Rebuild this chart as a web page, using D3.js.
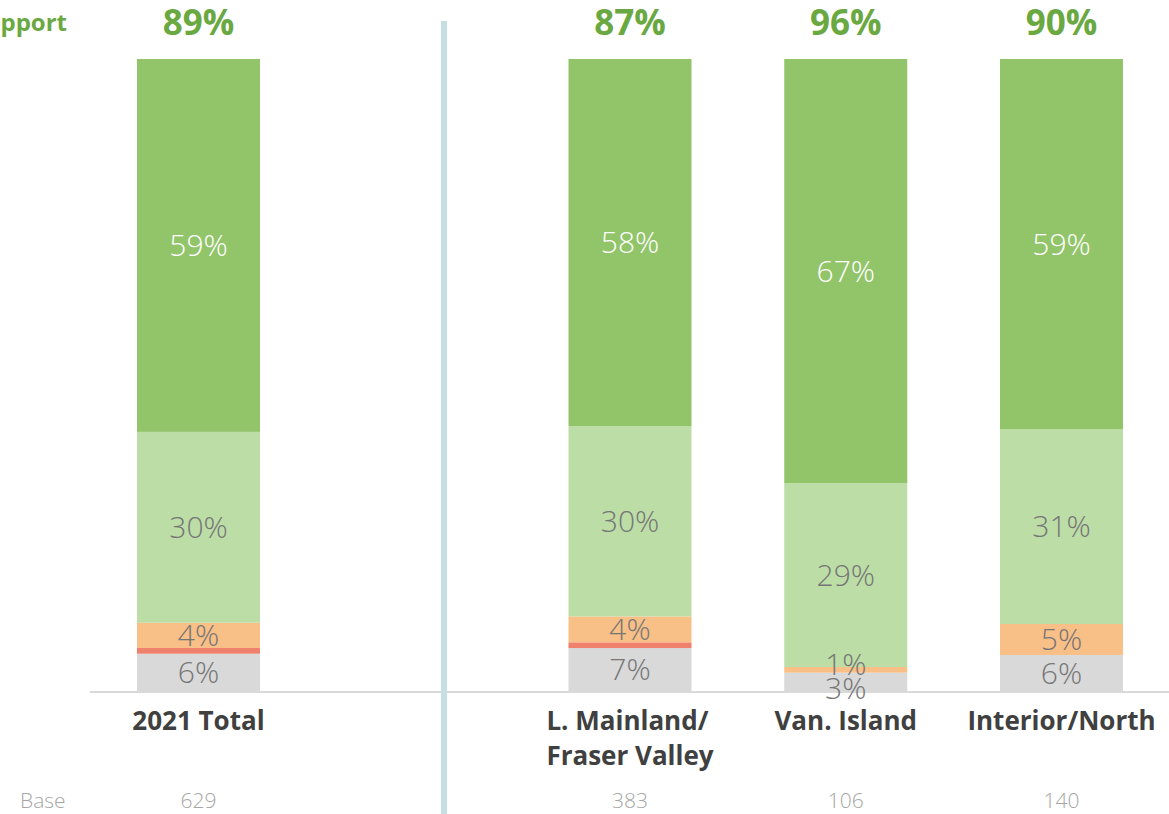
<!DOCTYPE html>
<html>
<head>
<meta charset="utf-8">
<script src="https://cdn.jsdelivr.net/npm/d3@7"></script>
<style>
  body { margin: 0; background: #fff; }
  text { font-family: "Open Sans", "Noto Sans", sans-serif; }
</style>
</head>
<body>
<svg width="1169" height="814"></svg>
<script>
// categories ("" is the empty slot before the divider)
var categories = ["2021 Total", "", "L. Mainland/\nFraser Valley", "Van. Island", "Interior/North"];
var bases = ["629", "", "383", "106", "140"];
var totalSupport = [89, null, 87, 96, 90];

// series values, bottom to top
var dontKnow        = [5.9, null, 6.8, 2.9, 5.7];
var stronglyOppose  = [0.9, null, 0.9, 0,   0];
var somewhatOppose  = [4.0, null, 4.1, 0.9, 4.9];
var somewhatSupport = [30.2, null, 30.1, 29.1, 30.8];
var stronglySupport = [59.0, null, 58.1, 67.1, 58.6];

var series = [
  {name: "Don't know", values: dontKnow, color: "#d9d9d9", text: "#767676", label: true},
  {name: "Strongly oppose", values: stronglyOppose, color: "#ef806c", text: "#767676", label: false},
  {name: "Somewhat oppose", values: somewhatOppose, color: "#f8bf87", text: "#767676", label: true},
  {name: "Somewhat support", values: somewhatSupport, color: "#bcdda6", text: "#767676", label: true},
  {name: "Strongly support", values: stronglySupport, color: "#92c56a", text: "#ffffff", label: true}
];

var svg = d3.select("svg"),
    width = +svg.attr("width"),
    height = +svg.attr("height");

var green = "#6aa842";
var barWidth = 123;

var x = d3.scalePoint()
    .domain(d3.range(categories.length))
    .range([198.5, 1061.5]);

var y = d3.scaleLinear()
    .domain([0, 100])
    .range([691, 59]);

// baseline
svg.append("line")
    .attr("x1", 90).attr("x2", width)
    .attr("y1", y(0) + 1).attr("y2", y(0) + 1)
    .attr("stroke", "#d9d9d9")
    .attr("stroke-width", 2);

// divider
svg.append("rect")
    .attr("x", 441).attr("y", 21)
    .attr("width", 6).attr("height", height - 21)
    .attr("fill", "#c6dfe3");

var idx = d3.range(categories.length).filter(i => categories[i] !== "");

// stacked bars
idx.forEach(function(i) {
  var acc = 0;
  var labels = [];
  series.forEach(function(s) {
    var v = s.values[i];
    if (v > 0) {
      svg.append("rect")
          .attr("x", x(i) - barWidth / 2)
          .attr("y", y(acc + v))
          .attr("width", barWidth)
          .attr("height", y(acc) - y(acc + v))
          .attr("fill", s.color);
      if (s.label) labels.push({text: Math.round(v) + "%", cy: y(acc + v / 2), color: s.text});
    }
    acc += v;
  });
  // push overlapping labels apart
  var minGap = 24;
  for (var k = 1; k < labels.length; k++) {
    var d = labels[k - 1].cy - labels[k].cy;
    if (d < minGap) {
      var shift = (minGap - d) / 2;
      labels[k - 1].cy += shift;
      labels[k].cy -= shift;
    }
  }
  labels.forEach(function(l) {
    svg.append("text")
        .attr("x", x(i))
        .attr("y", l.cy)
        .attr("dy", "0.36em")
        .attr("text-anchor", "middle")
        .attr("font-size", 30)
        .attr("font-weight", 300)
        .attr("fill", l.color)
        .text(l.text);
  });

  // total support on top
  svg.append("text")
      .attr("x", x(i))
      .attr("y", 35)
      .attr("text-anchor", "middle")
      .attr("font-size", 35)
      .attr("font-weight", "bold")
      .attr("fill", green)
      .text(totalSupport[i] + "%");

  // category label: lines left-aligned, block centred on the bar
  var lines = categories[i].split("\n");
  var label = svg.append("text")
      .attr("y", 730)
      .attr("font-size", 26)
      .attr("font-weight", "bold")
      .attr("fill", "#404040");
  var spans = label.selectAll("tspan")
      .data(lines)
      .join("tspan")
      .attr("dy", (d, j) => j === 0 ? 0 : 35)
      .text(d => d);
  var w = d3.max(spans.nodes(), n => n.getComputedTextLength());
  spans.attr("x", x(i) - w / 2);

  // base
  svg.append("text")
      .attr("x", x(i))
      .attr("y", 808)
      .attr("text-anchor", "middle")
      .attr("font-size", 21)
      .attr("font-weight", 300)
      .attr("fill", "#a6a6a6")
      .text(bases[i]);
});

svg.append("text")
    .attr("x", 67).attr("y", 31)
    .attr("text-anchor", "end")
    .attr("font-size", 24)
    .attr("font-weight", "bold")
    .attr("fill", green)
    .text("Total Support");

svg.append("text")
    .attr("x", 20).attr("y", 808)
    .attr("font-size", 21)
    .attr("font-weight", 300)
    .attr("fill", "#a6a6a6")
    .text("Base");
</script>
</body>
</html>
